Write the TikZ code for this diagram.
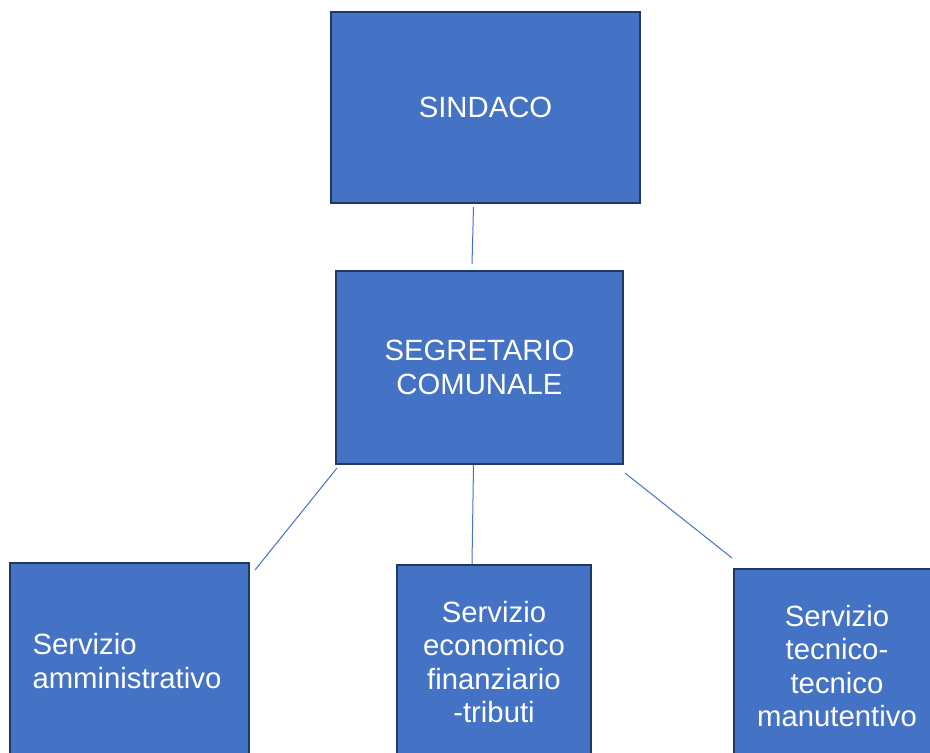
\documentclass[tikz,border=0pt]{standalone}
\usepackage{fontspec}
\setmainfont{Liberation Sans}
\usepackage{tikz}

\definecolor{boxblue}{HTML}{4472C4}
\definecolor{boxedge}{HTML}{1F3864}

\begin{document}
\begin{tikzpicture}[x=1pt, y=-1pt]
    \tikzstyle{office} = [rectangle, draw=boxedge, line width=2pt, fill=boxblue, text=white, inner sep=0pt, align=center, font=\fontsize{29.3}{33.5}\selectfont]
    \tikzstyle{link} = [draw=boxblue, line width=1pt]
    \useasboundingbox (0,0) rectangle (930,753);
    \clip (0,0) rectangle (930,753);
    \fill[white] (0,0) rectangle (930,753);
    \node[office, minimum width=309, minimum height=191] (sindaco) at (485.5,107.5) {SINDACO};
    \node[office, minimum width=287, minimum height=193] (segretario) at (479.5,367.5) {SEGRETARIO\\COMUNALE};
    \node[office, minimum width=239, minimum height=196, align=left, text width=194] (amm) at (129.5,661) {Servizio\\amministrativo};
    \node[office, minimum width=194, minimum height=194] (econ) at (494,662) {Servizio\\economico\\finanziario\\-tributi};
    \node[office, minimum width=206, minimum height=194] (tecn) at (837,666) {Servizio\\tecnico-\\tecnico\\manutentivo};
    \draw[link] ([shift={(-12,3)}]sindaco.south) -- ([shift={(-7.5,-6)}]segretario.north);
    \draw[link] ([shift={(2,3)}]segretario.south west) -- ([shift={(5,8)}]amm.north east);
    \draw[link] ([shift={(-6,0)}]segretario.south) -- ([shift={(-22,0)}]econ.north);
    \draw[link] ([shift={(1,8)}]segretario.south east) -- ([shift={(-1,-10)}]tecn.north west);
\end{tikzpicture}
\end{document}
